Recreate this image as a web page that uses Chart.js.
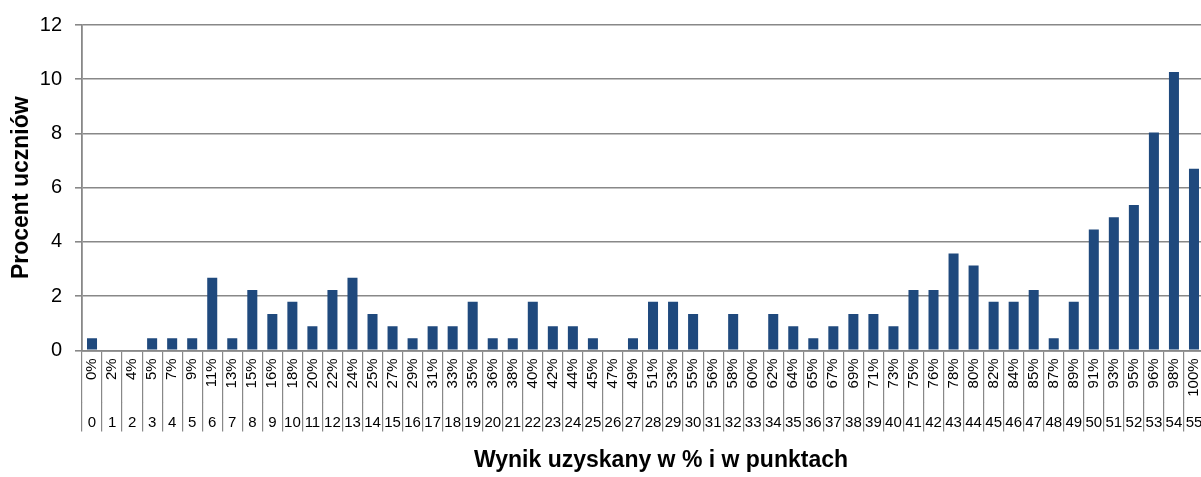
<!DOCTYPE html>
<html>
<head>
<meta charset="utf-8">
<script src="https://cdn.jsdelivr.net/npm/chart.js@4/dist/chart.umd.min.js"></script>
<style>
  html, body { margin: 0; padding: 0; background: #fff; overflow: hidden; }
  #wrap { width: 1322px; height: 477px; position: relative; }
</style>
</head>
<body>
<div id="wrap"><canvas id="c"></canvas></div>
<script>
const pointLabels = ['0','1','2','3','4','5','6','7','8','9','10','11','12','13','14','15','16','17','18','19','20','21','22','23','24','25','26','27','28','29','30','31','32','33','34','35','36','37','38','39','40','41','42','43','44','45','46','47','48','49','50','51','52','53','54','55'];
const percentLabels = ['0%','2%','4%','5%','7%','9%','11%','13%','15%','16%','18%','20%','22%','24%','25%','27%','29%','31%','33%','35%','36%','38%','40%','42%','44%','45%','47%','49%','51%','53%','55%','56%','58%','60%','62%','64%','65%','67%','69%','71%','73%','75%','76%','78%','80%','82%','84%','85%','87%','89%','91%','93%','95%','96%','98%','100%'];
const studentPercent = [0.45,0,0,0.45,0.45,0.45,2.68,0.45,2.23,1.34,1.79,0.89,2.23,2.68,1.34,0.89,0.45,0.89,0.89,1.79,0.45,0.45,1.79,0.89,0.89,0.45,0,0.45,1.79,1.79,1.34,0,1.34,0,1.34,0.89,0.45,0.89,1.34,1.34,0.89,2.23,2.23,3.57,3.13,1.79,1.79,2.23,0.45,1.79,4.46,4.91,5.36,8.04,10.27,6.70];
const yTicks = [0, 2, 4, 6, 8, 10, 12];
const yTitle = 'Procent uczniów';
const xTitle = 'Wynik uzyskany w % i w punktach';

const GRID = '#888888';
Chart.defaults.font.family = "'Liberation Sans', Arial, sans-serif";
Chart.defaults.color = '#000';

new Chart(document.getElementById('c'), {
  type: 'bar',
  data: {
    labels: pointLabels,
    datasets: [{
      data: studentPercent,
      backgroundColor: '#1F497D',
      borderWidth: 0,
      barPercentage: 0.5,
      categoryPercentage: 1.0,
      xAxisID: 'x',
      yAxisID: 'y'
    }]
  },
  options: {
    responsive: true,
    maintainAspectRatio: false,
    animation: false,
    devicePixelRatio: 1,
    layout: { padding: { top: 20, left: 0, right: 0, bottom: 0 } },
    plugins: {
      legend: { display: false },
      tooltip: { enabled: false },
      title: {
        display: true,
        text: xTitle,
        position: 'bottom',
        font: { size: 23, weight: 'bold' },
        color: '#000',
        padding: { top: 15, bottom: 3 }
      }
    },
    scales: {
      x: {
        type: 'category',
        labels: percentLabels,
        position: 'bottom',
        weight: 1,
        offset: true,
        grid: { display: true, drawOnChartArea: false, drawTicks: true, tickLength: 52, offset: true, color: GRID, lineWidth: 1.2 },
        border: { display: true, color: GRID, width: 1.8 },
        ticks: { autoSkip: false, minRotation: 90, maxRotation: 90, padding: -44, font: { size: 15 }, color: '#000' },
        afterFit: s => { s.height = 52; }
      },
      x2: {
        type: 'category',
        labels: pointLabels,
        position: 'bottom',
        weight: 2,
        offset: true,
        grid: { display: true, drawOnChartArea: false, drawTicks: true, tickLength: 29, offset: true, color: GRID, lineWidth: 1.2 },
        border: { display: false },
        ticks: { autoSkip: false, minRotation: 0, maxRotation: 0, padding: -18, font: { size: 15 }, color: '#000' },
        afterFit: s => { s.height = 29; }
      },
      y: {
        type: 'linear',
        position: 'left',
        min: 0,
        max: 12,
        afterBuildTicks: s => { s.ticks = yTicks.map(v => ({ value: v })); },
        grid: { color: GRID, lineWidth: 1.6, tickLength: 7, drawTicks: true },
        border: { display: true, color: GRID, width: 1.8 },
        ticks: { padding: 13, font: { size: 20 }, color: '#000' },
        title: { display: true, text: yTitle, font: { size: 23, weight: 'bold' }, color: '#000', padding: { top: 8, bottom: 0 } },
        afterFit: s => { s.width = 82; }
      },
      pad: {
        type: 'linear',
        position: 'right',
        display: true,
        grid: { display: false, drawTicks: false },
        border: { display: false },
        ticks: { display: false },
        afterFit: s => { s.width = 118; }
      }
    }
  }
});
</script>
</body>
</html>
